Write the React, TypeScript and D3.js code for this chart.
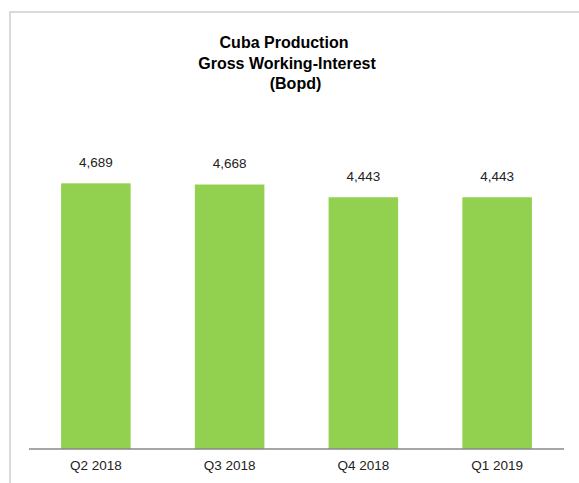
import React from "react";
import * as d3 from "d3";

const categories = ["Q2 2018", "Q3 2018", "Q4 2018", "Q1 2019"];
const values = [4689, 4668, 4443, 4443];
const titleLines = ["Cuba Production", "Gross Working-Interest", "(Bopd)"];

const W = 579;
const H = 483;
const titleX = [284, 287, 295.5];

export default function App() {
  const x = d3
    .scaleBand<string>()
    .domain(categories)
    .range([29, 564])
    .paddingInner(0.48)
    .paddingOuter(0.24);
  const y = d3.scaleLinear().domain([0, 5000]).range([449, 165.7]);
  const fmt = d3.format(",");
  const font = "Arial, 'Liberation Sans', sans-serif";

  return (
    <svg
      width={W}
      height={H}
      style={{ position: "absolute", left: 0, top: 0, display: "block", background: "#fff" }}
      fontFamily={font}
    >
      <rect x={10} y={12} width={W + 10} height={H + 10} fill="#fff" stroke="#d9d9d9" strokeWidth={2} />
      {titleLines.map((t, i) => (
        <text
          key={t}
          x={titleX[i]}
          y={48.3 + i * 20.3}
          textAnchor="middle"
          fontSize={16}
          fontWeight="bold"
          fill="#000"
        >
          {t}
        </text>
      ))}
      {categories.map((c, i) => (
        <g key={c}>
          <rect
            x={x(c)}
            y={y(values[i])}
            width={x.bandwidth()}
            height={y(0) - y(values[i])}
            fill="#92D050"
          />
          <text
            x={(x(c) ?? 0) + x.bandwidth() / 2}
            y={y(values[i]) - 16.5}
            textAnchor="middle"
            fontSize={13.5}
            fill="#222"
          >
            {fmt(values[i])}
          </text>
          <text
            x={(x(c) ?? 0) + x.bandwidth() / 2}
            y={469.5}
            textAnchor="middle"
            fontSize={13.5}
            fill="#222"
          >
            {c}
          </text>
        </g>
      ))}
      <line x1={29} x2={564} y1={449} y2={449} stroke="#898989" strokeWidth={1.5} />
    </svg>
  );
}
